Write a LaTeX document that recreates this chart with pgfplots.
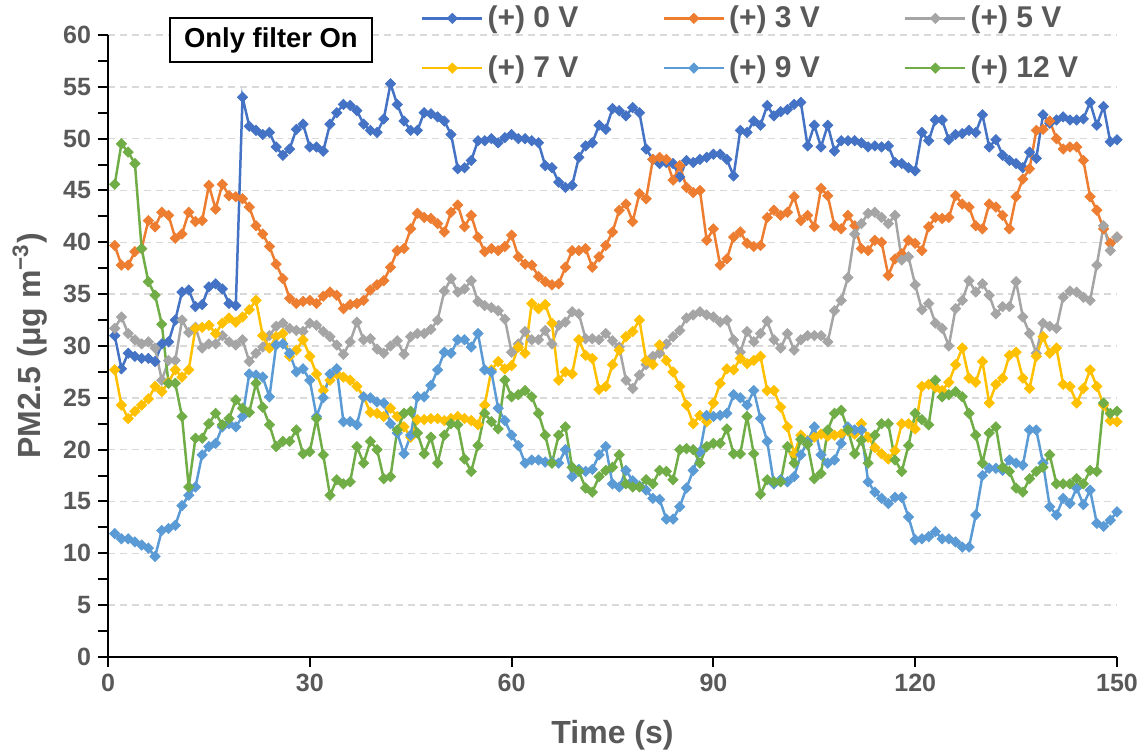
\documentclass[border=0pt]{standalone}
\usepackage{fontspec}
\setmainfont{Liberation Sans}
\usepackage{pgfplots}
\usepackage{pgfplotstable}
\pgfplotsset{compat=1.18}

\definecolor{cA}{HTML}{4472C4}
\definecolor{cB}{HTML}{ED7D31}
\definecolor{cC}{HTML}{A5A5A5}
\definecolor{cD}{HTML}{FFC000}
\definecolor{cE}{HTML}{5B9BD5}
\definecolor{cF}{HTML}{70AD47}
\definecolor{txt}{HTML}{595959}
\definecolor{gridc}{HTML}{D9D9D9}

% PM2.5 readings (ug/m3) per second for each applied voltage
% a: 0 V, b: 3 V, c: 5 V, d: 7 V, e: 9 V, f: 12 V
\pgfplotstableread{
t a b c d e f
1 31.0 39.7 31.7 27.7 11.9 45.6
2 27.8 37.8 32.8 24.3 11.4 49.5
3 29.3 37.8 31.2 23.0 11.4 48.7
4 29.0 39.1 30.6 23.7 11.1 47.6
5 28.8 39.4 30.2 24.3 10.8 39.4
6 28.8 42.1 30.4 24.9 10.5 36.2
7 28.5 41.5 29.8 26.1 9.7 34.9
8 30.2 42.9 26.7 25.6 12.2 32.1
9 30.4 42.6 28.6 26.5 12.4 26.4
10 32.5 40.4 28.6 27.7 12.7 26.4
11 35.2 40.8 32.5 27.0 14.6 23.2
12 35.4 42.9 31.3 27.7 15.6 16.4
13 33.8 42.0 31.8 31.7 16.4 21.1
14 34.0 42.1 29.8 31.8 19.5 21.1
15 35.7 45.5 30.2 32.0 20.3 22.5
16 36.0 43.2 30.2 31.2 20.6 23.5
17 35.5 45.6 31.0 32.2 22.2 22.4
18 34.1 44.5 30.4 32.7 22.5 23.0
19 33.9 44.4 30.1 32.3 22.2 24.8
20 54.0 44.2 30.6 32.8 23.2 24.0
21 51.2 43.4 28.5 33.5 27.3 23.6
22 50.8 41.6 29.3 34.4 27.2 26.4
23 50.4 40.8 29.9 31.0 27.0 24.1
24 50.6 39.6 31.0 29.8 25.1 22.4
25 49.2 37.9 31.9 30.9 30.1 20.3
26 48.4 36.5 32.2 31.2 30.2 20.8
27 49.0 34.6 31.7 29.0 29.3 20.8
28 50.9 34.1 31.5 29.6 27.5 21.9
29 51.4 34.3 31.4 30.6 27.8 19.6
30 49.2 34.4 32.2 29.0 26.7 19.8
31 49.2 34.1 32.0 27.3 23.2 23.0
32 48.8 34.8 31.4 25.7 25.0 19.5
33 51.4 35.2 30.9 26.7 27.3 15.6
34 52.5 34.9 30.1 27.3 27.8 17.1
35 53.3 33.6 29.2 27.0 22.7 16.7
36 53.2 34.0 30.4 26.7 22.7 16.9
37 52.7 34.1 32.3 26.1 22.4 20.3
38 51.4 34.4 30.6 25.1 25.1 18.7
39 50.8 35.4 30.7 23.6 25.0 20.8
40 50.6 35.9 29.7 23.5 24.6 20.0
41 51.9 36.3 29.3 23.2 24.5 17.2
42 55.3 37.6 30.0 24.0 22.5 17.4
43 53.3 39.2 30.5 23.2 21.6 21.9
44 51.7 39.4 29.2 22.2 19.6 23.5
45 50.8 41.3 30.9 21.2 21.4 23.7
46 50.8 42.8 31.2 22.9 25.1 21.6
47 52.5 42.4 31.2 22.9 25.1 19.6
48 52.4 42.3 31.6 23.0 26.2 21.2
49 52.1 41.8 32.5 23.0 27.7 18.7
50 51.7 41.0 35.3 22.8 29.4 21.4
51 50.4 42.9 36.5 23.0 29.3 22.5
52 47.1 43.6 35.2 23.2 30.6 22.4
53 47.2 41.5 35.5 23.0 30.6 19.1
54 47.9 42.6 36.3 22.8 29.9 17.9
55 49.8 40.5 34.3 22.4 31.2 20.4
56 49.8 39.1 33.9 24.3 27.7 23.5
57 50.0 39.4 33.7 27.7 27.5 22.7
58 49.6 39.2 33.4 28.5 24.0 22.0
59 50.1 39.6 32.6 27.8 22.8 26.7
60 50.4 40.7 29.4 28.1 21.4 25.1
61 50.0 38.6 30.2 29.9 20.4 25.3
62 50.0 37.9 31.4 29.3 18.7 25.7
63 49.8 37.8 30.6 34.1 19.0 25.1
64 49.6 36.7 30.6 33.6 19.0 23.5
65 47.4 36.2 31.5 34.0 18.8 21.4
66 47.2 35.9 30.2 32.2 18.8 18.7
67 45.8 36.0 32.0 26.7 18.7 21.4
68 45.3 37.6 32.3 27.5 20.0 22.2
69 45.5 39.2 33.3 27.3 17.4 18.3
70 48.2 39.2 33.1 30.6 18.1 17.9
71 49.3 39.4 30.7 29.1 17.9 16.3
72 49.6 37.6 30.7 28.8 18.1 15.9
73 51.3 38.6 30.6 25.8 19.5 17.4
74 50.9 39.7 31.2 26.1 20.3 18.0
75 52.9 41.0 30.5 28.2 16.7 18.3
76 52.7 43.1 29.9 29.6 16.4 19.5
77 52.2 43.7 26.7 30.9 18.0 16.7
78 53.0 42.0 25.9 31.4 17.0 16.4
79 52.5 44.7 27.2 32.5 16.5 16.4
80 49.0 44.2 28.2 28.6 16.1 17.1
81 48.0 48.0 29.0 28.2 15.3 16.7
82 47.6 48.2 29.3 30.1 15.2 18.0
83 47.7 48.0 30.2 28.6 13.3 17.9
84 47.6 46.0 30.9 27.5 13.3 17.1
85 46.3 47.4 31.5 26.1 14.5 20.0
86 47.9 45.3 32.7 24.3 16.3 20.1
87 47.7 44.8 33.0 22.5 18.0 20.0
88 48.0 45.0 33.3 23.3 19.8 18.7
89 48.2 40.2 33.0 22.7 23.3 20.3
90 48.5 41.3 32.8 24.5 23.2 20.6
91 48.5 37.8 32.3 26.4 23.3 20.6
92 48.0 38.4 32.5 27.8 23.5 22.0
93 46.4 40.5 30.6 27.7 25.3 19.6
94 50.8 41.0 29.4 28.8 25.0 19.6
95 50.6 39.9 31.4 28.3 24.3 23.2
96 51.7 39.6 30.4 28.6 25.7 19.6
97 51.3 39.7 31.2 29.0 23.0 15.7
98 53.2 42.4 32.4 25.7 20.8 17.1
99 52.2 43.1 30.6 25.7 16.7 16.9
100 52.6 42.6 29.8 24.1 17.1 16.9
101 52.8 42.9 31.2 22.2 16.9 20.3
102 53.3 44.4 29.6 19.6 17.4 18.7
103 53.5 42.1 30.6 21.4 19.5 21.0
104 49.3 42.6 31.0 20.9 20.8 20.5
105 51.3 41.5 31.0 21.2 22.2 17.2
106 49.2 45.2 31.0 21.5 19.5 17.7
107 51.3 44.5 30.4 21.3 18.7 21.9
108 48.8 41.6 33.4 21.4 19.0 23.5
109 49.8 41.3 34.4 21.5 20.6 23.8
110 49.8 42.6 36.6 21.8 22.2 21.9
111 49.8 41.6 40.8 21.5 21.9 19.6
112 49.6 39.4 41.8 22.5 21.9 20.9
113 49.2 39.2 42.8 21.2 16.9 18.7
114 49.3 40.2 42.9 20.2 15.9 21.4
115 49.2 40.0 42.4 19.6 15.3 22.5
116 49.3 36.8 41.8 19.1 14.8 22.5
117 47.7 38.4 42.6 19.9 15.4 19.0
118 47.6 38.9 38.3 22.5 15.4 17.9
119 47.2 40.2 38.6 22.5 13.5 20.4
120 46.9 39.9 35.9 22.0 11.3 23.5
121 50.6 39.2 33.5 26.1 11.4 22.9
122 49.8 41.5 34.1 26.3 11.6 22.4
123 51.8 42.4 32.2 26.0 12.1 26.7
124 51.8 42.3 31.7 25.7 11.4 25.1
125 49.9 42.4 30.0 26.5 11.4 25.3
126 50.4 44.5 33.6 28.2 11.1 25.6
127 50.5 43.7 34.4 29.8 10.6 25.1
128 50.8 43.4 36.3 26.9 10.6 23.5
129 50.6 41.6 35.2 26.5 13.7 21.4
130 52.3 41.3 36.0 28.5 17.5 18.7
131 49.2 43.7 34.9 24.5 18.2 21.6
132 49.9 43.4 33.1 26.3 18.2 22.2
133 48.4 42.6 33.8 26.9 18.0 18.3
134 47.9 41.3 33.8 29.1 19.0 17.9
135 47.6 44.4 36.2 29.4 18.7 16.3
136 47.2 46.1 32.8 26.9 18.5 15.9
137 48.7 47.1 31.2 25.9 21.9 17.2
138 48.1 50.8 29.3 29.0 21.9 17.9
139 52.3 50.9 32.2 30.9 18.7 18.3
140 51.5 51.7 31.9 29.3 14.5 19.5
141 51.8 50.0 31.7 29.8 13.7 16.7
142 52.1 49.0 34.7 26.3 15.3 16.7
143 51.8 49.2 35.3 26.1 14.8 16.7
144 51.8 49.2 35.2 24.5 16.3 17.2
145 51.9 47.9 34.7 25.9 14.7 16.7
146 53.5 44.4 34.4 27.7 16.1 18.0
147 51.3 43.1 37.8 26.1 12.9 17.9
148 53.1 41.3 41.6 24.3 12.6 24.5
149 49.7 39.9 39.2 22.8 13.2 23.5
150 49.9 40.5 40.5 22.7 14.0 23.7
}\pmdata

\newcommand{\legtxt}[1]{\makebox[85.5pt][l]{#1}}

\begin{document}
\begin{tikzpicture}
\useasboundingbox (-54pt,-48.5pt) rectangle (519pt,328.5pt);
\begin{axis}[
  scale only axis, width=504.5pt, height=311pt,
  xmin=0, xmax=150, ymin=0, ymax=60,
  xtick={0,30,...,150}, ytick={0,5,...,60},
  minor y tick num=1,
  axis x line*=bottom, axis y line*=left,
  x axis line style={-, line width=1.25pt, black},
  y axis line style={-, line width=1.25pt, black},
  tick style={line width=1pt, black},
  major tick length=5pt, minor tick length=5pt,
  tick align=outside,
  ymajorgrids,
  major grid style={gridc, dash pattern=on 3.5pt off 2.5pt, line width=0.7pt},
  /pgf/number format/assume math mode=true,
  ticklabel style={font=\fontsize{12.5}{15}\selectfont\bfseries, text=txt},
  xlabel={Time (s)},
  ylabel={PM2.5 (μg m\textsuperscript{−3})},
  label style={font=\fontsize{16}{19}\selectfont\bfseries, text=txt},
  xlabel style={at={(axis description cs:0.5,-0.1254)}, anchor=center},
  ylabel style={at={(axis description cs:-0.0773,0.5)}, anchor=center},
  clip=false,
  every axis plot/.append style={line width=1.25pt, mark=square*,
    mark size=1.8pt, mark options={solid, rotate=45, line width=0.4pt}},
  legend columns=3,
  legend cell align=left,
  legend image code/.code={\draw[mark repeat=2,mark phase=2]
    plot coordinates {(0pt,0pt) (15pt,0pt) (30pt,0pt)};},
  legend style={draw=none, fill=none,
    at={(axis description cs:0.304,1.06)}, anchor=north west,
    font=\fontsize{15}{18}\selectfont\bfseries, text=txt,
    row sep=8.5pt,
    /tikz/every even column/.append style={column sep=0pt}},
]
\addplot[cA] table[x=t, y=a] {\pmdata};
\addlegendentry{\legtxt{(+) 0 V}}
\addplot[cB] table[x=t, y=b] {\pmdata};
\addlegendentry{\legtxt{(+) 3 V}}
\addplot[cC] table[x=t, y=c] {\pmdata};
\addlegendentry{\legtxt{(+) 5 V}}
\addplot[cD] table[x=t, y=d] {\pmdata};
\addlegendentry{\legtxt{(+) 7 V}}
\addplot[cE] table[x=t, y=e] {\pmdata};
\addlegendentry{\legtxt{(+) 9 V}}
\addplot[cF] table[x=t, y=f] {\pmdata};
\addlegendentry{\legtxt{(+) 12 V}}

\node[draw=black, line width=0.8pt, fill=white, minimum width=101pt,
  minimum height=22pt, inner sep=0pt, text=black,
  font=\fontsize{13.7}{16}\selectfont\bfseries]
  at (axis description cs:0.1615,0.992) {Only filter On};
\end{axis}
\end{tikzpicture}
\end{document}
